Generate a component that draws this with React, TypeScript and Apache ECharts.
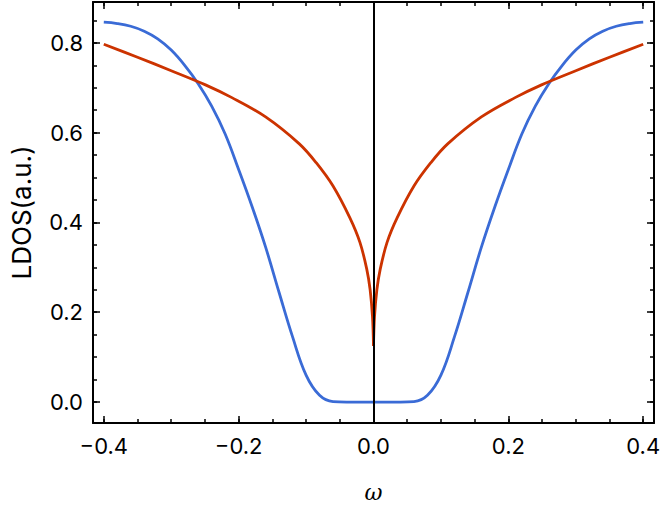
import React, { useEffect, useRef } from "react";
import * as echarts from "echarts";

const blueOmega = [
  -0.4, -0.38, -0.36, -0.34, -0.32, -0.3, -0.28, -0.26, -0.24, -0.22, -0.2, -0.18, -0.16, -0.14, -0.12,
  -0.1, -0.08, -0.06, -0.04, -0.02, 0, 0.02, 0.04, 0.06, 0.08, 0.1, 0.12, 0.14, 0.16, 0.18,
  0.2, 0.22, 0.24, 0.26, 0.28, 0.3, 0.32, 0.34, 0.36, 0.38, 0.4,
];
const blueLdos = [
  0.846, 0.843, 0.837, 0.826, 0.809, 0.784, 0.75, 0.709, 0.659, 0.597, 0.518, 0.435, 0.345, 0.244, 0.145,
  0.06, 0.015, 0.001, 0.0, 0.0, 0.0, 0.0, 0.0, 0.001, 0.015, 0.06, 0.145, 0.244, 0.345, 0.435,
  0.518, 0.597, 0.659, 0.709, 0.75, 0.784, 0.809, 0.826, 0.837, 0.843, 0.846,
];

const redOmega = [
  -0.4, -0.35, -0.3, -0.25, -0.21, -0.16, -0.11, -0.085, -0.06, -0.035, -0.02, -0.01, -0.005, -0.0015, 0,
  0.0015, 0.005, 0.01, 0.02, 0.035, 0.06, 0.085, 0.11, 0.16, 0.21, 0.25, 0.3, 0.35, 0.4,
];
const redLdos = [
  0.797, 0.768, 0.738, 0.707, 0.678, 0.635, 0.575, 0.533, 0.481, 0.41, 0.355, 0.296, 0.25, 0.19, 0.125,
  0.19, 0.25, 0.296, 0.355, 0.41, 0.481, 0.533, 0.575, 0.635, 0.678, 0.707, 0.738, 0.768, 0.797,
];

const xMajorTicks = [-0.4, -0.2, 0.0, 0.2, 0.4];
const xMinorTicks = [-0.4, -0.35, -0.3, -0.25, -0.2, -0.15, -0.1, -0.05, 0, 0.05, 0.1, 0.15, 0.2, 0.25, 0.3, 0.35, 0.4];
const yMajorTicks = [0.0, 0.2, 0.4, 0.6, 0.8];
const yMinorTicks = [0, 0.05, 0.1, 0.15, 0.2, 0.25, 0.3, 0.35, 0.4, 0.45, 0.5, 0.55, 0.6, 0.65, 0.7, 0.75, 0.8, 0.85];

const X_MIN = -0.416;
const X_MAX = 0.416;
const Y_MIN = -0.0467;
const Y_MAX = 0.891;

const FONT = "Inter";

function fmt(v: number) {
  const s = Math.abs(v).toFixed(1);
  return v < -1e-9 ? "\u2212" + s : s;
}

export default function App() {
  const ref = useRef<HTMLDivElement>(null);
  useEffect(() => {
    if (!ref.current) return;
    const chart = echarts.init(ref.current, undefined, { renderer: "svg" });
    const lineStyle = { color: "#000", width: 2 };
    const mkX = (pos: "bottom" | "top", values: number[], len: number, labels: boolean, showLine: boolean, name?: string) => ({
      type: "value",
      position: pos,
      min: X_MIN,
      max: X_MAX,
      name: name,
      nameLocation: "middle",
      nameGap: 58,
      nameTextStyle: { fontFamily: "DejaVu Serif", fontStyle: "italic", fontSize: 22, color: "#000" },
      axisLine: { show: showLine, onZero: false, lineStyle },
      axisTick: { show: true, inside: true, length: len, customValues: values, lineStyle: { color: "#000", width: 1.5 } },
      axisLabel: {
        show: labels,
        customValues: values,
        formatter: (v: number) => fmt(v),
        fontFamily: FONT,
        fontSize: 22,
        color: "#000",
        margin: 12,
      },
      splitLine: { show: false },
    });
    const mkY = (pos: "left" | "right", values: number[], len: number, labels: boolean, showLine: boolean, name?: string) => ({
      type: "value",
      position: pos,
      min: Y_MIN,
      max: Y_MAX,
      name: name,
      nameLocation: "middle",
      nameGap: 59,
      nameTextStyle: { fontFamily: FONT, fontSize: 26, color: "#000" },
      axisLine: { show: showLine, onZero: false, lineStyle },
      axisTick: { show: true, inside: true, length: len, customValues: values, lineStyle: { color: "#000", width: 1.5 } },
      axisLabel: {
        show: labels,
        customValues: values,
        formatter: (v: number) => fmt(v),
        fontFamily: FONT,
        fontSize: 22,
        color: "#000",
        margin: 10,
      },
      splitLine: { show: false },
    });
    const redLeft = redOmega.map((x, i) => [x, redLdos[i]]).filter((p) => p[0] <= 0);
    const redRight = redOmega.map((x, i) => [x, redLdos[i]]).filter((p) => p[0] >= 0);
    const redStyle = { color: "#cc3300", width: 2.8 };
    chart.setOption({
      animation: false,
      grid: { left: 90, right: 10, top: 2, bottom: 84, containLabel: false },
      xAxis: [
        mkX("bottom", xMajorTicks, 7, true, true, "\u03c9"),
        mkX("bottom", xMinorTicks, 4, false, false),
        mkX("top", xMajorTicks, 7, false, true),
        mkX("top", xMinorTicks, 4, false, false),
      ],
      yAxis: [
        mkY("left", yMajorTicks, 7, true, true, "LDOS(a.u.)"),
        mkY("left", yMinorTicks, 4, false, false),
        mkY("right", yMajorTicks, 7, false, true),
        mkY("right", yMinorTicks, 4, false, false),
      ],
      series: [
        {
          type: "line",
          data: blueOmega.map((x, i) => [x, blueLdos[i]]),
          showSymbol: false,
          smooth: 0.4,
          lineStyle: { color: "#3a6bd6", width: 2.8 },
          z: 2,
        },
        {
          type: "line",
          data: redLeft,
          showSymbol: false,
          smooth: 0.35,
          lineStyle: redStyle,
          z: 3,
        },
        {
          type: "line",
          data: redRight,
          showSymbol: false,
          smooth: 0.35,
          lineStyle: redStyle,
          z: 3,
        },
        {
          type: "line",
          data: [],
          z: 4,
          markLine: {
            silent: true,
            symbol: "none",
            label: { show: false },
            lineStyle: { color: "#000", width: 2, type: "solid" },
            data: [{ xAxis: 0 }],
          },
        },
      ],
    });
    return () => chart.dispose();
  }, []);
  return <div ref={ref} style={{ width: 664, height: 508, position: "absolute", left: 0, top: 0 }} />;
}
